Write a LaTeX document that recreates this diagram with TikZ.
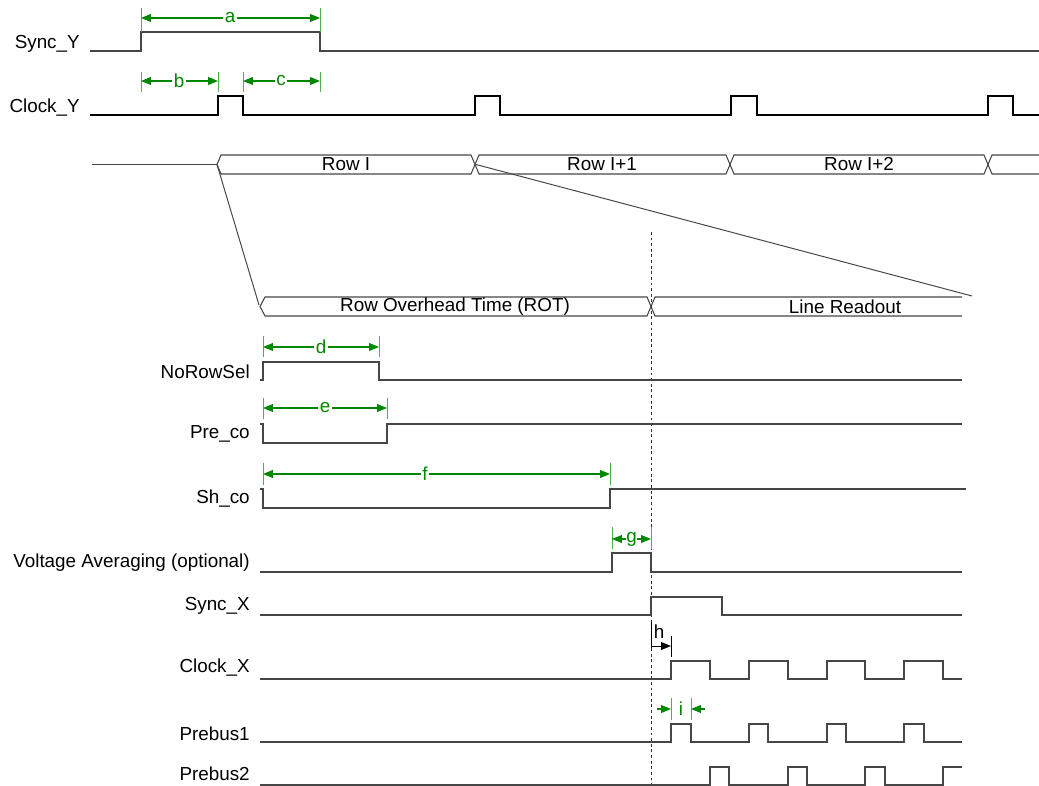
\documentclass[tikz,border=0pt]{standalone}
\usepackage{fontspec}
\setmainfont{Liberation Sans}
\usetikzlibrary{arrows.meta}
\definecolor{dimgreen}{RGB}{0,135,0}
\definecolor{extgreen}{RGB}{80,175,80}
\definecolor{wavec}{RGB}{70,70,70}
\newcommand{\sigfont}{\fontsize{13.4}{16}\selectfont}
\begin{document}
\begin{tikzpicture}[x=0.025cm,y=-0.025cm,
 wave/.style={draw=wavec, line width=0.75pt, line join=miter},
 clk/.style={draw=black, line width=1.5pt, line join=miter},
 dimline/.style={draw=dimgreen, line width=0.75pt, {Triangle[length=7pt,width=5.5pt]}-{Triangle[length=7pt,width=5.5pt]}},
 halfdim/.style={draw=dimgreen, line width=0.75pt, -{Triangle[length=7pt,width=5.5pt]}},
 ext/.style={draw=extgreen, line width=0.7pt},
 dimlab/.style={fill=white, text=dimgreen, inner sep=1pt, font=\sigfont},
 sig/.style={anchor=east, inner sep=0pt, font=\sigfont},
 bus/.style={draw=wavec, line width=0.75pt, line join=miter},
 buslab/.style={inner sep=0pt, font=\sigfont},
 marker/.style={draw=black!80, line width=0.7pt, dash pattern=on 2pt off 2pt}]
\useasboundingbox (0,0) rectangle (1039,786);

% ---- signal labels
\node[sig] (lsy) at (80,44) {Sync\_Y};
\node[sig] (lcy) at (80,108) {Clock\_Y};
\node[sig] (lnr) at (250,372) {NoRowSel};
\node[sig] (lpc) at (250,434) {Pre\_co};
\node[sig] (lsh) at (250,499) {Sh\_co};
\node[sig] (lva) at (250,563) {Voltage Averaging (optional)};
\node[sig] (lsx) at (250,606) {Sync\_X};
\node[sig] (lcx) at (250,668) {Clock\_X};
\node[sig] (lp1) at (250,734) {Prebus1};
\node[sig] (lp2) at (250,774) {Prebus2};

% ---- Sync_Y and Clock_Y
\draw[wave] (90,51)--(141,51)--(141,32)--(320,32)--(320,51)--(1039,51);
\draw[clk] (90,115)--(218,115)--(218,96)--(243,96)--(243,115)--(475,115)--(475,96)--(500,96)--(500,115)--(731,115)--(731,96)--(757,96)--(757,115)--(988,115)--(988,96)--(1013,96)--(1013,115)--(1039,115);

% dimensions a, b, c
\draw[ext] (141,8)--(141,32) (320,8)--(320,32);
\draw[ext] (141,72)--(141,92) (218,72)--(218,92) (243,72)--(243,92) (320,72)--(320,92);
\draw[dimline] (141,18)--(320,18);
\node[dimlab] (da) at (230,18) {a};
\draw[dimline] (141,81)--(218,81);
\node[dimlab] (db) at (179,81) {b};
\draw[dimline] (243,81)--(320,81);
\node[dimlab] (dc) at (281,81) {c};

% ---- Row bus
\draw[wave] (92,164.5)--(217,164.5);
\draw[bus] (217,164.5)--(221,155)--(471,155)--(475,164.5)--(471,174)--(221,174)--cycle;
\draw[bus] (475,164.5)--(479,155)--(726,155)--(730,164.5)--(726,174)--(479,174)--cycle;
\draw[bus] (730,164.5)--(734,155)--(984,155)--(988,164.5)--(984,174)--(734,174)--cycle;
\draw[bus] (1045,155)--(992,155)--(988,164.5)--(992,174)--(1045,174);
\node[buslab] (r0) at (346,164.5) {Row I};
\node[buslab] (r1) at (602,164.5) {Row I+1};
\node[buslab] (r2) at (859,164.5) {Row I+2};

% ---- zoom lines
\coordinate (zl1) at (217,164.5);
\coordinate (zl2) at (259,305);
\coordinate (zr1) at (476,164.5);
\coordinate (zr2) at (972,296);
\draw[draw=wavec, line width=0.7pt] (zl1)--(zl2);
\draw[draw=wavec, line width=0.7pt] (zr1)--(zr2);

% ---- ROT bus
\draw[bus] (260,306.5)--(265,297)--(647,297)--(651,306.5)--(647,316)--(265,316)--cycle;
\draw[bus] (962,297)--(655,297)--(651,306.5)--(655,316)--(962,316);
\node[buslab] (rot) at (455,306.5) {Row Overhead Time (ROT)};
\node[buslab] (rdo) at (845,306.5) {Line Readout};

% ---- marker
\coordinate (m1) at (651,232);
\coordinate (m2) at (651,786);
\draw[marker] (m1)--(m2);

% ---- NoRowSel
\draw[wave] (260,380)--(263,380)--(263,362)--(379,362)--(379,380)--(962,380);
\draw[ext] (263,336)--(263,357) (379,336)--(379,357);
\draw[dimline] (263,347)--(379,347);
\node[dimlab] (dd) at (321,347) {d};

% ---- Pre_co
\draw[wave] (260,424)--(263,424)--(263,443)--(387,443)--(387,424)--(962,424);
\draw[ext] (263,398)--(263,419) (387,398)--(387,419);
\draw[dimline] (263,408)--(387,408);
\node[dimlab] (de) at (325,408) {e};

% ---- Sh_co
\draw[wave] (260,489)--(263,489)--(263,508)--(610,508)--(610,489)--(966,489);
\draw[ext] (263,463)--(263,485) (610,463)--(610,485);
\draw[dimline] (263,474)--(610,474);
\node[dimlab] (df) at (425,474) {f};

% ---- Voltage Averaging
\draw[wave] (260,572)--(612,572)--(612,553)--(651,553)--(651,572)--(962,572);
\draw[ext] (612,527)--(612,549) (651,527)--(651,549);
\draw[dimline] (612,539)--(651,539);
\node[dimlab, inner sep=0.5pt] (dg) at (631.5,539) {g};

% ---- Sync_X
\draw[wave] (260,615)--(651,615)--(651,597)--(722,597)--(722,615)--(962,615);

% h
\draw[black, line width=0.7pt] (651,620)--(651,648) (671,636)--(671,657);
\draw[black, line width=0.7pt, -{Triangle[length=7pt,width=5.5pt]}] (651,646)--(671,646);
\node[buslab] (dh) at (659,632) {h};

% ---- Clock_X
\draw[wave] (260,679)--(671,679)--(671,661)--(710,661)--(710,679)--(749,679)--(749,661)--(788,661)--(788,679)--(827,679)--(827,661)--(865,661)--(865,679)--(904,679)--(904,661)--(943,661)--(943,679)--(962,679);

% ---- Prebus1
\draw[wave] (260,742)--(671,742)--(671,724)--(691,724)--(691,742)--(749,742)--(749,724)--(768,724)--(768,742)--(827,742)--(827,724)--(846,724)--(846,742)--(904,742)--(904,724)--(924,724)--(924,742)--(962,742);
\draw[ext] (671,698)--(671,720) (691,698)--(691,720);
\draw[halfdim] (657,709)--(671,709);
\draw[halfdim] (705,709)--(691,709);
\node[dimlab, fill=none] (di) at (681,709) {i};

% ---- Prebus2
\draw[wave] (260,785)--(710,785)--(710,767)--(729,767)--(729,785)--(788,785)--(788,767)--(807,767)--(807,785)--(865,785)--(865,767)--(885,767)--(885,785)--(943,785)--(943,767)--(962,767);
\end{tikzpicture}
\end{document}
